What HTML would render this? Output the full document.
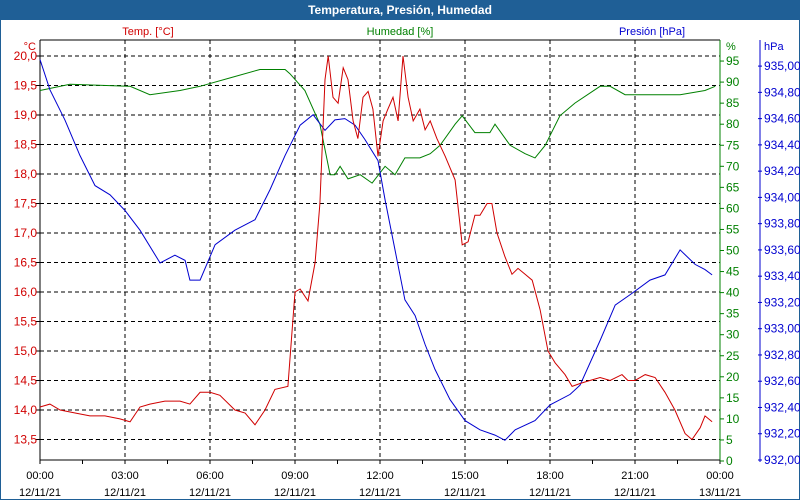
<!DOCTYPE html>
<html><head><meta charset="utf-8"><style>
body{margin:0;background:#fff}
svg{display:block;font-family:"Liberation Sans",sans-serif}
</style></head><body>
<svg id="c" width="800" height="500">
<rect x="0" y="0" width="800" height="500" fill="#fff" stroke="#1f5f96" stroke-width="2"/>
<rect x="0" y="0" width="800" height="20" fill="#1f5f96"/>
<text x="400" y="14" text-anchor="middle" fill="#fff" font-size="12" font-weight="bold">Temperatura, Presión, Humedad</text>
<text x="148" y="35" text-anchor="middle" fill="#d00000" font-size="11">Temp. [°C]</text>
<text x="400" y="35" text-anchor="middle" fill="#008000" font-size="11">Humedad [%]</text>
<text x="652" y="35" text-anchor="middle" fill="#0000d0" font-size="11">Presión [hPa]</text>
<text x="36" y="50" text-anchor="end" fill="#d00000" font-size="11">°C</text>
<text x="726" y="50" fill="#008000" font-size="11">%</text>
<text x="764" y="50" fill="#0000d0" font-size="11">hPa</text>
<g id="grid"></g><g id="axes"></g><g id="series"></g>
</svg>
<script>
const tempT=[0,.35,.71,1.24,1.76,2.29,2.82,3.18,3.53,3.88,4.41,4.94,5.29,5.65,6,6.35,6.88,7.24,7.59,7.94,8.29,8.75,9,9.18,9.46,9.71,9.88,10.06,10.17,10.34,10.52,10.7,10.87,11.05,11.22,11.4,11.58,11.75,11.93,12.11,12.28,12.46,12.64,12.81,12.99,13.17,13.41,13.59,13.77,14.01,14.3,14.65,14.9,15.11,15.35,15.53,15.78,15.95,16.13,16.41,16.66,16.87,17.12,17.37,17.65,17.93,18.18,18.53,18.78,19.06,19.41,19.77,20.12,20.54,20.75,21,21.36,21.71,22.06,22.41,22.77,23.01,23.3,23.47,23.72];
const tempV=[14.05,14.1,14.0,13.95,13.9,13.9,13.85,13.8,14.05,14.1,14.15,14.15,14.1,14.3,14.3,14.25,14.0,13.95,13.75,14.0,14.35,14.4,16.0,16.05,15.85,16.5,17.5,19.6,20.0,19.3,19.2,19.8,19.6,18.9,18.6,19.3,19.4,19.1,18.3,18.9,19.1,19.3,18.9,20.0,19.3,18.9,19.1,18.75,18.9,18.6,18.3,17.9,16.8,16.85,17.3,17.3,17.5,17.5,17.0,16.6,16.3,16.4,16.3,16.2,15.7,15.0,14.8,14.6,14.4,14.45,14.5,14.55,14.5,14.6,14.5,14.5,14.6,14.55,14.3,14.0,13.6,13.5,13.7,13.9,13.8];
const humT=[0,1.06,3.18,3.88,4.94,5.65,6.71,7.76,8.65,8.82,9.35,9.88,10.24,10.41,10.59,10.87,11.3,11.72,12.18,12.53,12.88,13.41,13.77,14.12,14.65,14.9,15.35,15.88,16.06,16.59,17.12,17.47,17.83,18.35,18.88,19.77,20.12,20.65,21.53,22.59,23.47,23.83];
const humV=[88,89.5,89,87,88,89,91,93,93,92,88,80,68,68,70,67,68,66,70,68,72,72,73,75,80,82,78,78,80,75,73,72,75,82,85,89,89,87,87,87,88,89];
const presT=[0,.35,.88,1.41,1.94,2.47,3,3.53,4.24,4.76,5.12,5.29,5.65,6.18,6.88,7.59,8.12,8.65,9.18,9.64,10.06,10.41,10.76,11.12,11.47,11.93,12.18,12.53,12.88,13.24,13.59,13.94,14.47,15,15.53,16.06,16.41,16.77,17.47,18,18.71,19.06,19.77,20.3,20.83,21.53,22.06,22.59,23.12,23.47,23.72];
const presV=[935.05,934.82,934.59,934.32,934.09,934.02,933.90,933.75,933.50,933.56,933.52,933.37,933.37,933.64,933.75,933.83,934.06,934.32,934.55,934.63,934.51,934.59,934.60,934.55,934.44,934.28,933.98,933.60,933.22,933.10,932.88,932.69,932.46,932.30,932.23,932.19,932.15,932.23,932.30,932.42,932.50,932.57,932.91,933.18,933.26,933.37,933.41,933.60,933.49,933.45,933.41];
const tempTicks=[13.5,14,14.5,15,15.5,16,16.5,17,17.5,18,18.5,19,19.5,20];
const humTicks=[0,5,10,15,20,25,30,35,40,45,50,55,60,65,70,75,80,85,90,95];
const presTicks=[932.0,932.2,932.4,932.6,932.8,933.0,933.2,933.4,933.6,933.8,934.0,934.2,934.4,934.6,934.8,935.0];
const xTicks=[0,3,6,9,12,15,18,21,24];
const xTime=["00:00","03:00","06:00","09:00","12:00","15:00","18:00","21:00","00:00"];
const xDate=["12/11/21","12/11/21","12/11/21","12/11/21","12/11/21","12/11/21","12/11/21","12/11/21","13/11/21"];

const L=40,R=720,T=40,B=460;
const xs=h=>L+h*(R-L)/24;
const yT=v=>56+(20-v)*59;
const yH=v=>461-v*4.21;
const yP=v=>460-(v-932)*131.3;
const NS="http://www.w3.org/2000/svg";
function mk(tag,attrs,parent,text){const e=document.createElementNS(NS,tag);for(const k in attrs)e.setAttribute(k,attrs[k]);if(text!==undefined)e.textContent=text;document.getElementById(parent).appendChild(e);return e;}
// grid
tempTicks.forEach(v=>{const y=yT(v);
const g=mk('line',{x1:L,x2:R,y1:y,y2:y,stroke:'#000','stroke-dasharray':'4,3'},'grid');


const l=mk('line',{x1:L-4,x2:L,y1:y,y2:y,stroke:'#000'},'axes');


const t=mk('text',{x:L-3,y:y+4,'text-anchor':'end',fill:'#d00000','font-size':12},'axes',v.toFixed(1).replace('.',','));

});
xTicks.forEach((h,i)=>{const x=xs(h);
if(i>0&&i<8){const g=mk('line',{x1:x,x2:x,y1:T,y2:B,stroke:'#000','stroke-dasharray':'4,3'},'grid');

}
const a=mk('text',{x:x,y:479,'text-anchor':'middle',fill:'#000','font-size':11},'axes',xTime[i]);


const b=mk('text',{x:x,y:496,'text-anchor':'middle',fill:'#000','font-size':11},'axes',xDate[i]);

});
for(let h=0;h<=24;h+=1.5){const tk=mk('line',{x1:xs(h),x2:xs(h),y1:B,y2:B+4,stroke:'#000'},'axes');

}
humTicks.forEach(v=>{const y=yH(v);
const l=mk('line',{x1:R,x2:R+4,y1:y,y2:y,stroke:'#008000'},'axes');


const t=mk('text',{x:R+6,y:y+4,fill:'#008000','font-size':12},'axes',String(v));

});
presTicks.forEach(v=>{const y=yP(v);
const l=mk('line',{x1:758,x2:762,y1:y,y2:y,stroke:'#0000d0'},'axes');


const t=mk('text',{x:764,y:y+4,fill:'#0000d0','font-size':12},'axes',v.toFixed(2).replace('.',','));

});
const ax=[[L,T,L,B,'#000','left-axis'],[L,T,R,T,'#000','top-axis'],[L,B,R,B,'#000','x-axis'],[R,T,R,B,'#008000','humidity-axis'],[760,40,760,462,'#0000d0','pressure-axis']];
ax.forEach(a=>{const e=mk('line',{x1:a[0],y1:a[1],x2:a[2],y2:a[3],stroke:a[4]},'axes');

});
function series(t,v,yf,col,name){const d=t.map((h,i)=>(i?'L':'M')+xs(h).toFixed(1)+','+yf(v[i]).toFixed(1)).join('');
const p=mk('path',{d:d,fill:'none',stroke:col,'stroke-width':1},'series');

}
series(humT,humV,yH,'#008000','humidity-line');
series(presT,presV,yP,'#0000d0','pressure-line');
series(tempT,tempV,yT,'#d00000','temperature-line');
</script>
</body></html>
